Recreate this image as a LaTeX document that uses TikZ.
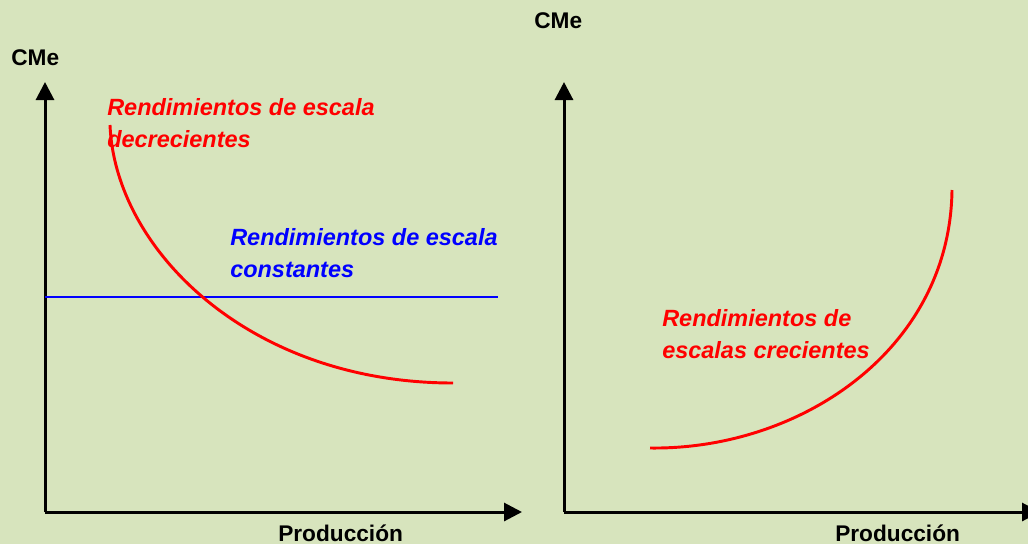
\documentclass[tikz,border=0pt]{standalone}
\usepackage{fontspec}
\setmainfont{Liberation Sans}
\usetikzlibrary{arrows.meta, positioning}
\definecolor{fondo}{RGB}{215,228,189}

\begin{document}
\begin{tikzpicture}[x=0.75pt, y=-0.75pt,
        eje/.style={-{Triangle[length=13.5pt, width=13.5pt]}, line width=2.25pt},
        t/.style={font=\fontsize{17}{23.6}\selectfont\bfseries, inner sep=0, anchor=base west},
        ti/.style={t, font=\fontsize{17.6}{23.6}\selectfont\bfseries\itshape, align=left},
        c/.style={line width=2.2pt, red}]
        \fill[fondo] (0,0) rectangle (1028,544);
        \clip (0,0) rectangle (1028,544);

        \foreach \n/\x/\xe in {1/45/522, 2/564/1040}
        \draw coordinate (O\n) at (\x,512) coordinate (Y\n) at (\x,82) coordinate (X\n) at (\xe,512);
        \foreach \n in {1, 2}
        {\draw[eje] (O\n) -- (Y\n); \draw[eje] (O\n) -- (X\n);}

        \draw node[t] (cme1) at (11,65) {CMe} node[t] (cme2) at (534,28) {CMe};
        \draw node[t] (prod1) at (278,541) {Producción} node[t] (prod2) at (835,541) {Producción};

        % constantes
        \draw[blue, line width=2.2pt] (O1 |- 0,297) coordinate (b1) -- (498,297) coordinate (b2);
        \draw node[ti, blue] (lcon) at (230,277) {Rendimientos de escala\\constantes};

        % decrecientes
        \draw[c] (110,125) coordinate (d1) .. controls (115,250) and (250,383) .. (453,383) coordinate (d2);
        \draw node[ti, red] (ldec) at (107,147) {Rendimientos de escala\\decrecientes};

        % crecientes
        \draw[c] (650,448) coordinate (k1) .. controls (800,450) and (950,350) .. (952,190) coordinate (k2);
        \draw node[ti, red] (lcre) at (662,358) {Rendimientos de\\escalas crecientes};
\end{tikzpicture}
\end{document}
